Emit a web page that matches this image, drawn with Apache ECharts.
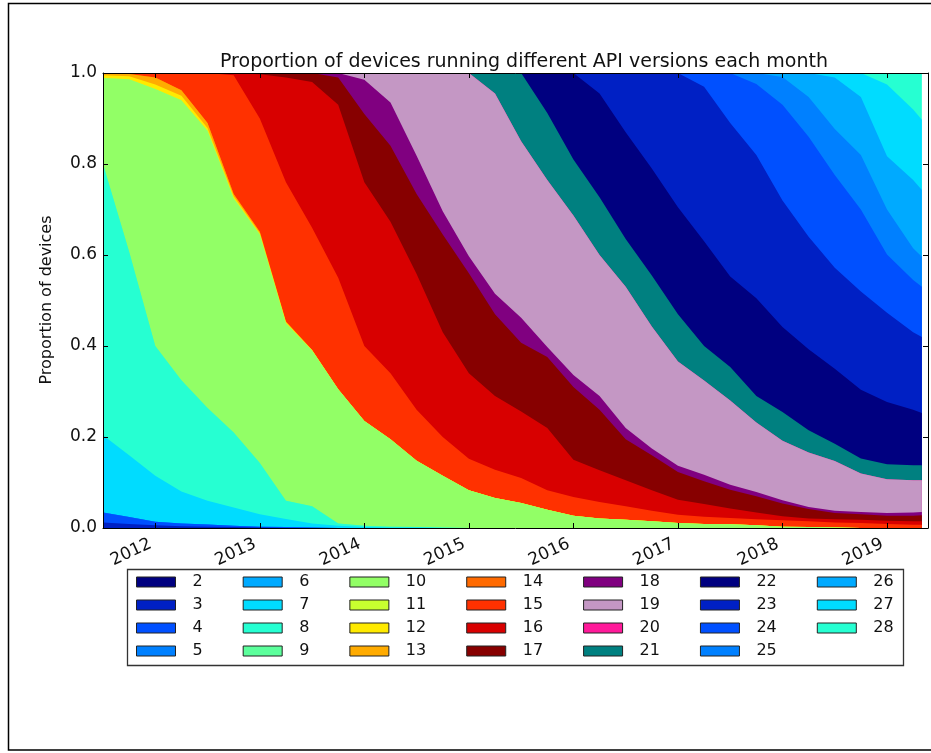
<!DOCTYPE html>
<html><head><meta charset="utf-8">
<script src="https://cdn.jsdelivr.net/npm/echarts@6/dist/echarts.min.js"></script>
<style>html,body{margin:0;padding:0;background:#fff}#c{width:931px;height:753px}</style>
</head><body><div id="c"></div>
<script>
// ---- data (sampled quarterly from the picture) ----
const months = ['2011-07','2011-10','2012-01','2012-04','2012-07','2012-10','2013-01','2013-04','2013-07','2013-10',
  '2014-01','2014-04','2014-07','2014-10','2015-01','2015-04','2015-07','2015-10','2016-01','2016-04',
  '2016-07','2016-10','2017-01','2017-04','2017-07','2017-10','2018-01','2018-04','2018-07','2018-10',
  '2019-01','2019-04','2019-05'];
const apiLevels = ['2','3','4','5','6','7','8','9','10','11','12','13','14','15','16','17','18','19','20','21','22','23','24','25','26','27','28'];
const yearTicks = ['2012','2013','2014','2015','2016','2017','2018','2019'];
const chartTitle = 'Proportion of devices running different API versions each month';
const yAxisTitle = 'Proportion of devices';

const api2  = [0,0,0,0,0,0,0,0,0,0, 0,0,0,0,0,0,0,0,0,0, 0,0,0,0,0,0,0,0,0,0, 0,0,0];
const api3  = [0.012,0.009,0.006,0.004,0.003,0.002,0.001,0,0,0, 0,0,0,0,0,0,0,0,0,0, 0,0,0,0,0,0,0,0,0,0, 0,0,0];
const api4  = [0.022,0.015,0.008,0.006,0.0045,0.003,0.002,0.002,0.001,0, 0,0,0,0,0,0,0,0,0,0, 0,0,0,0,0,0,0,0,0,0, 0,0,0];
const api5  = [0,0,0,0,0,0,0,0,0,0, 0,0,0,0,0,0,0,0,0,0, 0,0,0,0,0,0,0,0,0,0, 0,0,0];
const api6  = [0,0,0,0,0,0,0,0,0,0, 0,0,0,0,0,0,0,0,0,0, 0,0,0,0,0,0,0,0,0,0, 0,0,0];
const api7  = [0.17,0.136,0.101,0.07,0.0525,0.04,0.027,0.018,0.009,0.005, 0.002,0.001,0.001,0,0,0,0,0,0,0, 0,0,0,0,0,0,0,0,0,0, 0,0,0];
const api8  = [0.596,0.447,0.285,0.245,0.204,0.165,0.113,0.04,0.038,0.005, 0.003,0.002,0.001,0.001,0,0,0,0,0,0, 0,0,0,0,0,0,0,0,0,0, 0,0,0];
const api9  = [0,0,0,0,0,0,0,0,0,0, 0,0,0,0,0,0,0,0,0,0, 0,0,0,0,0,0,0,0,0,0, 0,0,0];
const api10 = [0.189,0.379,0.565,0.615,0.609,0.515,0.502,0.39,0.342,0.295, 0.23,0.192,0.146,0.114,0.083,0.066,0.055,0.04,0.027,0.021, 0.018,0.015,0.011,0.009,0.008,0.006,0.003,0.002,0.001,0, 0,0,0];
const api11 = [0,0,0,0,0,0,0,0,0,0, 0,0,0,0,0,0,0,0,0,0, 0,0,0,0,0,0,0,0,0,0, 0,0,0];
const api12 = [0.006,0.007,0.01,0.01,0.006,0.004,0.003,0.002,0.001,0, 0,0,0,0,0,0,0,0,0,0, 0,0,0,0,0,0,0,0,0,0, 0,0,0];
const api13 = [0.004,0.005,0.015,0.012,0.011,0.005,0.003,0.002,0,0, 0,0,0,0,0,0,0,0,0,0, 0,0,0,0,0,0,0,0,0,0, 0,0,0];
const api14 = [0,0,0,0,0,0,0,0,0,0, 0,0,0,0,0,0,0,0,0,0, 0,0,0,0,0,0,0,0,0,0, 0,0,0];
const api15 = [0.001,0.002,0.01,0.038,0.11,0.261,0.249,0.306,0.269,0.245, 0.165,0.145,0.112,0.085,0.069,0.062,0.055,0.043,0.041,0.036, 0.03,0.023,0.018,0.016,0.014,0.013,0.014,0.013,0.011,0.011, 0.009,0.007,0.007];
const api16 = [0,0,0,0,0,0.005,0.097,0.23,0.32,0.38, 0.36,0.333,0.298,0.23,0.188,0.162,0.146,0.137,0.082,0.07, 0.057,0.045,0.033,0.028,0.021,0.015,0.009,0.006,0.007,0.007, 0.007,0.008,0.008];
const api17 = [0,0,0,0,0,0,0.003,0.01,0.02,0.06, 0.15,0.167,0.176,0.215,0.22,0.18,0.151,0.156,0.16,0.133, 0.09,0.077,0.061,0.05,0.041,0.036,0.028,0.021,0.014,0.012, 0.011,0.012,0.013];
const api18 = [0,0,0,0,0,0,0,0,0,0.01, 0.075,0.095,0.084,0.051,0.037,0.045,0.055,0.022,0.026,0.03, 0.025,0.015,0.014,0.014,0.011,0.009,0.007,0.004,0.005,0.005, 0.006,0.007,0.007];
const api19 = [0,0,0,0,0,0,0,0,0,0, 0.015,0.065,0.182,0.304,0.403,0.44,0.388,0.367,0.351,0.31, 0.31,0.268,0.229,0.207,0.185,0.153,0.131,0.12,0.109,0.085, 0.074,0.071,0.07];
const api20 = [0,0,0,0,0,0,0,0,0,0, 0,0,0,0,0,0,0,0,0,0, 0,0,0,0,0,0,0,0,0,0, 0,0,0];
const api21 = [0,0,0,0,0,0,0,0,0,0, 0,0,0,0,0,0.045,0.15,0.147,0.123,0.127, 0.105,0.112,0.104,0.076,0.074,0.058,0.063,0.049,0.038,0.033, 0.033,0.033,0.033];
const api22 = [0,0,0,0,0,0,0,0,0,0, 0,0,0,0,0,0,0,0.088,0.19,0.228, 0.235,0.235,0.235,0.23,0.199,0.215,0.187,0.178,0.165,0.151, 0.137,0.122,0.115];
const api23 = [0,0,0,0,0,0,0,0,0,0, 0,0,0,0,0,0,0,0,0,0.045, 0.13,0.21,0.295,0.34,0.337,0.315,0.278,0.247,0.222,0.216, 0.196,0.17,0.167];
const api24 = [0,0,0,0,0,0,0,0,0,0, 0,0,0,0,0,0,0,0,0,0, 0,0,0,0.03,0.11,0.156,0.21,0.22,0.204,0.18, 0.128,0.115,0.11];
const api25 = [0,0,0,0,0,0,0,0,0,0, 0,0,0,0,0,0,0,0,0,0, 0,0,0,0,0,0.024,0.061,0.087,0.101,0.12, 0.099,0.07,0.066];
const api26 = [0,0,0,0,0,0,0,0,0,0, 0,0,0,0,0,0,0,0,0,0, 0,0,0,0,0,0,0.009,0.053,0.113,0.127, 0.117,0.15,0.147];
const api27 = [0,0,0,0,0,0,0,0,0,0, 0,0,0,0,0,0,0,0,0,0, 0,0,0,0,0,0,0,0,0.01,0.053, 0.158,0.155,0.154];
const api28 = [0,0,0,0,0,0,0,0,0,0, 0,0,0,0,0,0,0,0,0,0, 0,0,0,0,0,0,0,0,0,0, 0.025,0.08,0.103];

const seriesValues = [api2,api3,api4,api5,api6,api7,api8,api9,api10,api11,api12,api13,api14,api15,api16,api17,api18,api19,api20,api21,api22,api23,api24,api25,api26,api27,api28];

// ---- styles ----
const palette = ['#000080','#0020c4','#0050ff','#0080ff','#00aaff','#00dcff','#26ffd2','#5cff9c','#92ff66','#c8ff2f','#ffea00','#ffab00','#ff6a00','#ff3100','#d80000','#870000','#800080','#c497c4','#ff1a9a','#008080','#000080','#0020c4','#0050ff','#0080ff','#00aaff','#00dcff','#26ffd2'];
const FONT = 'DejaVu Sans';

// month string -> decimal year position on the x axis
function decYear(m){ const p = m.split('-').map(Number); return p[0] + (p[1]-1)/12; }
const yearVals = yearTicks.map(Number);

// Stack the layers (running totals), then paint from the top layer down so each
// lower layer covers the part of the one above that lies beneath it.
const stackedTops = [];
let running = months.map(() => 0);
seriesValues.forEach(vals => {
  running = running.map((r, i) => r + vals[i]);
  stackedTops.push(running.slice());
});

const series = [];
for (let k = apiLevels.length - 1; k >= 0; k--) {
  series.push({
    name: apiLevels[k], type: 'line', symbol: 'none', showSymbol: false,
    xAxisIndex: 0, yAxisIndex: 0,
    lineStyle: { width: 0, color: palette[k] },
    itemStyle: { color: palette[k] },
    areaStyle: { color: palette[k], opacity: 1, origin: 'start' },
    data: months.map((m, i) => [decYear(m), stackedTops[k][i]])
  });
}

const xMin = decYear(months[0]);
const xMax = 2019.392;
const axisLineStyle = { color: '#000', width: 1 };

const option = {
  animation: false,
  backgroundColor: '#fff',
  grid: { left: 103, right: 3, top: 73, bottom: 225, containLabel: false },
  legend: {
    data: apiLevels,
    orient: 'vertical', left: 136, top: 574, height: 90, padding: 0,
    itemWidth: 39, itemHeight: 10, itemGap: 7, icon: 'rect',
    itemStyle: { borderColor: '#222', borderWidth: 1 },
    selectedMode: false,
    textStyle: { fontFamily: FONT, fontSize: 16, color: '#111', lineHeight: 16, padding: [0, 33, 0, 12] }
  },
  xAxis: [
    { type: 'value', position: 'bottom', min: xMin, max: xMax, z: 5,
      axisLine: { show: true, onZero: false, lineStyle: axisLineStyle },
      axisTick: { show: true, inside: true, length: 5, lineStyle: axisLineStyle, customValues: yearVals },
      axisLabel: { customValues: yearVals, rotate: 25, margin: 13, fontFamily: FONT, fontSize: 17, color: '#111',
        padding: [0, 5, 0, 0], formatter: v => String(Math.round(v)) },
      splitLine: { show: false } },
    { type: 'value', position: 'top', min: xMin, max: xMax, z: 5,
      axisLine: { show: true, onZero: false, lineStyle: axisLineStyle },
      axisTick: { show: true, inside: true, length: 5, lineStyle: axisLineStyle, customValues: yearVals },
      axisLabel: { show: false },
      splitLine: { show: false } }
  ],
  yAxis: [
    { type: 'value', position: 'left', min: 0, max: 1, interval: 0.2, z: 5,
      axisLine: { show: true, onZero: false, lineStyle: axisLineStyle },
      axisTick: { show: true, inside: true, length: 5, lineStyle: axisLineStyle },
      axisLabel: { margin: 6, fontFamily: FONT, fontSize: 17, color: '#111', formatter: v => v.toFixed(1) },
      splitLine: { show: false } },
    { type: 'value', position: 'right', min: 0, max: 1, interval: 0.2, z: 5,
      axisLine: { show: true, onZero: false, lineStyle: axisLineStyle },
      axisTick: { show: true, inside: true, length: 5, lineStyle: axisLineStyle },
      axisLabel: { show: false },
      splitLine: { show: false } }
  ],
  series: series,
  graphic: [
    { type: 'rect', z: 0, silent: true, shape: { x: 8.5, y: 3.5, width: 930, height: 746.5 },
      style: { fill: 'none', stroke: '#000', lineWidth: 1.5 } },
    { type: 'rect', z: 0, silent: true, shape: { x: 127.5, y: 569.5, width: 776, height: 96 },
      style: { fill: 'none', stroke: '#333', lineWidth: 1.3 } },
    { type: 'text', silent: true, x: 524, y: 62,
      style: { text: chartTitle, font: '19px "DejaVu Sans"', fill: '#111', textAlign: 'center', textVerticalAlign: 'middle' } },
    { type: 'text', silent: true, x: 47, y: 300, rotation: Math.PI/2,
      style: { text: yAxisTitle, font: '16px "DejaVu Sans"', fill: '#111', textAlign: 'center', textVerticalAlign: 'middle' } }
  ]
};

const chart = echarts.init(document.getElementById('c'), null, { renderer: 'canvas' });
chart.setOption(option);
</script></body></html>
